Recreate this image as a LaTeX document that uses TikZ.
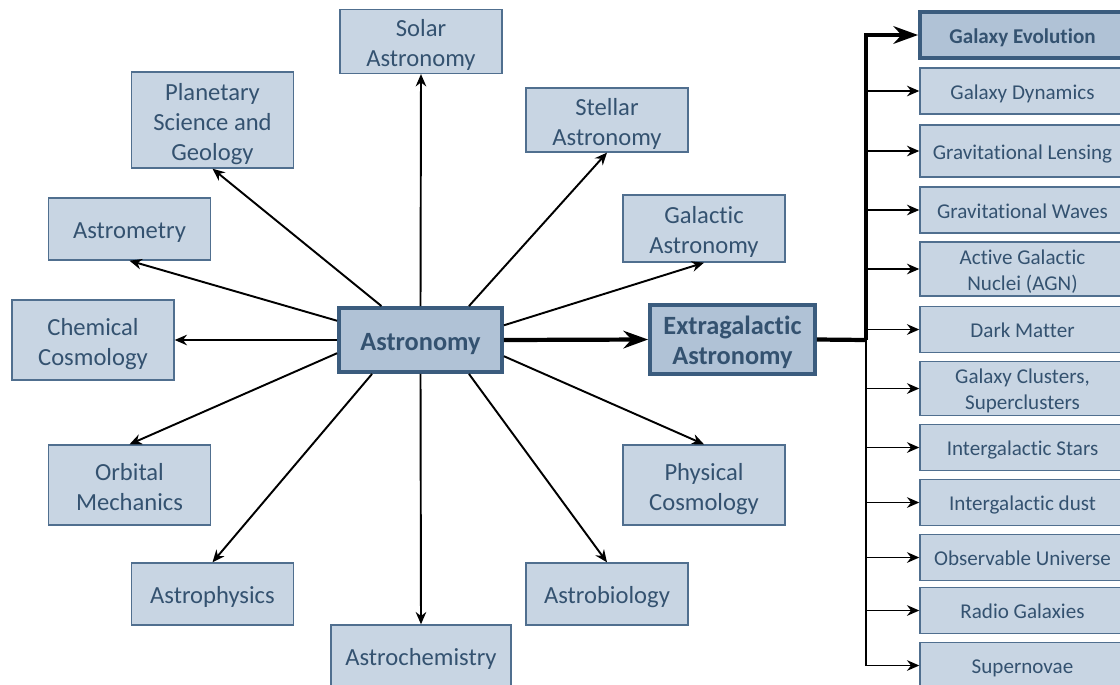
\documentclass[tikz,border=0pt]{standalone}
\usepackage{fontspec}
\setmainfont{Carlito}[Ligatures=NoCommon]
\usetikzlibrary{arrows.meta}
\definecolor{boxfill}{RGB}{200,213,227}
\definecolor{hubfill}{RGB}{176,194,214}
\definecolor{boxline}{RGB}{80,111,143}
\definecolor{hubline}{RGB}{59,92,126}
\definecolor{txtblue}{RGB}{52,82,112}

\begin{document}
\begin{tikzpicture}[x=0.02cm, y=-0.02cm]
  \tikzset{
    topic/.style={rectangle, fill=boxfill, draw=boxline, line width=0.8pt, text=txtblue, align=center, font=\fontsize{14}{17}\selectfont, minimum width=3.24cm, minimum height=1.24cm, inner sep=1pt,
      execute at begin node={\rule[-0.2em]{0pt}{1.2em}}, execute at end node={\rule[-0.2em]{0pt}{1.2em}}},
    hub/.style={topic, fill=hubfill, draw=hubline, line width=2.2pt, font=\fontsize{15}{17.5}\selectfont\bfseries},
    leaf/.style={topic, font=\fontsize{12}{14.7}\selectfont, minimum width=4.1cm, minimum height=0.92cm},
    % two or three lines: fix the text box so it sits like the single ones
    twolines/.style={text height=31.5pt, text depth=2.8pt},
    threelines/.style={text height=48.5pt, text depth=2.8pt},
    leaftwo/.style={text height=26.5pt, text depth=2.4pt},
    hubtwo/.style={text height=32pt, text depth=3pt},
    spoke/.style={-{Stealth[length=7pt,width=6pt]}, line width=1.1pt},
    trunk/.style={-{Stealth[length=14pt,width=10pt]}, line width=2.4pt}
  }
  \useasboundingbox (0,0) rectangle (1120,684);

  % centre
  \node[hub, minimum width=3.26cm, minimum height=1.28cm] (astro) at (420.5,340) {Astronomy};
  \node[hub, hubtwo, minimum width=3.3cm, minimum height=1.38cm] (extra) at (732.5,339.5) {Extragalactic\\Astronomy};

  % branches round the centre
  \node[topic, twolines] (solar) at (421,41.5) {Solar\\Astronomy};
  \node[topic, threelines, minimum height=1.92cm] (planet) at (212.5,120) {Planetary\\Science and\\Geology};
  \node[topic, twolines] (stellar) at (607,120) {Stellar\\Astronomy};
  \node[topic] (metry) at (129.5,229) {Astrometry};
  \node[topic, twolines, minimum height=1.34cm] (galac) at (704,228.5) {Galactic\\Astronomy};
  \node[topic, twolines, minimum height=1.6cm] (chemcos) at (93,340) {Chemical\\Cosmology};
  \node[topic, twolines, minimum height=1.6cm] (orbit) at (129.5,485) {Orbital\\Mechanics};
  \node[topic, twolines, minimum height=1.6cm] (physcos) at (704,485) {Physical\\Cosmology};
  \node[topic] (aphys) at (212.5,594) {Astrophysics};
  \node[topic] (abio) at (607,594) {Astrobiology};
  \node[topic, minimum width=3.6cm] (achem) at (421,656) {Astrochemistry};

  \draw[spoke] (astro.north) -- (solar.south);
  \draw[spoke] (astro.139.5) -- (planet.south);
  \draw[spoke] (astro.35.7) -- (stellar.south);
  \draw[spoke] (astro.167.5) -- (metry.south);
  \draw[spoke] (astro.10.4) -- (galac.south);
  \draw[spoke] (astro.west) -- (chemcos.east);
  \draw[spoke] (astro.189.7) -- (orbit.north);
  \draw[spoke] (astro.349.6) -- (physcos.north);
  \draw[spoke] (astro.215) -- (aphys.north);
  \draw[spoke] (astro.325.5) -- (abio.north);
  \draw[spoke] (astro.south) -- (achem.north);
  \draw[trunk] (astro.east) -- (extra.west);

  % extragalactic topics
  \node[hub, font=\fontsize{12}{14.7}\selectfont\bfseries, minimum width=4.1cm, minimum height=0.92cm] (evol) at (1022.5,35) {Galaxy Evolution};
  \node[leaf] (dyn) at (1022.5,91) {Galaxy Dynamics};
  \node[leaf, minimum height=1.04cm] (lens) at (1022.5,151) {Gravitational Lensing};
  \node[leaf] (waves) at (1022.5,210) {Gravitational Waves};
  \node[leaf, leaftwo, minimum height=1.04cm] (agn) at (1022.5,269) {Active Galactic\\Nuclei (AGN)};
  \node[leaf] (dark) at (1022.5,329.5) {Dark Matter};
  \node[leaf, leaftwo, minimum height=1.06cm] (clust) at (1022.5,388.5) {Galaxy Clusters,\\Superclusters};
  \node[leaf] (istars) at (1022.5,447.5) {Intergalactic Stars};
  \node[leaf] (idust) at (1022.5,502.5) {Intergalactic dust};
  \node[leaf] (univ) at (1022.5,557.5) {Observable Universe};
  \node[leaf] (radio) at (1022.5,610.5) {Radio Galaxies};
  \node[leaf] (nova) at (1022.5,665.5) {Supernovae};

  \coordinate (spine) at (866,340);
  \draw[line width=2.4pt] (extra.east) -- (spine);
  \draw[trunk] (spine) |- (evol.west);
  \draw[line width=1.1pt] (spine) -- (spine |- nova.west);
  \foreach \n in {dyn,lens,waves,agn,dark,clust,istars,idust,univ,radio,nova}
    \draw[spoke] (spine |- \n.west) -- (\n.west);
\end{tikzpicture}
\end{document}
